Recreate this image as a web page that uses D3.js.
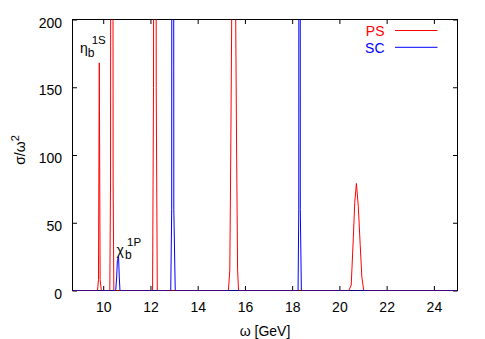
<!DOCTYPE html>
<html>
<head>
<meta charset="utf-8">
<script src="https://cdn.jsdelivr.net/npm/d3@7"></script>
<style>
  body { margin: 0; background: #fff; }
  svg { display: block; font-family: "Liberation Sans", Arial, Helvetica, sans-serif; }
</style>
</head>
<body>
<svg id="chart" width="485" height="339"></svg>
<script>
// ---- data ----
const psOmega = [8.7, 9.76, 9.80, 9.835, 9.87, 9.92,
                 10.28, 10.31, 10.366, 10.42, 10.45,
                 12.09, 12.13, 12.188, 12.245, 12.29,
                 15.30, 15.36, 15.40, 15.44, 15.53, 15.61, 15.65, 15.69, 15.73,
                 20.40, 20.50, 20.58, 20.65, 20.72, 20.80, 20.88, 20.95, 21.03, 25];
const psSigma = [0, 0, 8, 168, 8, 0,
                 0, 80, 1500, 80, 0,
                 0, 150, 1500, 150, 0,
                 0, 15, 100, 200, 1200, 200, 100, 15, 0,
                 0, 4, 35, 65, 79, 62, 34, 10, 0, 0];
const scOmega = [8.7, 10.53, 10.57, 10.60, 10.65, 10.68, 10.71,
                 12.86, 12.90, 12.943, 12.99, 13.05,
                 18.25, 18.28, 18.312, 18.345, 18.39, 25];
const scSigma = [0, 0, 10, 22, 25, 10, 0,
                 0, 60, 2000, 60, 0,
                 0, 60, 2000, 60, 0, 0];
const xTicks = [10, 12, 14, 16, 18, 20, 22, 24];
const yTicks = [0, 50, 100, 150, 200];
const seriesNames = ["PS", "SC"];
const seriesColors = ["#ff0000", "#0000ff"];

// ---- layout ----
const svg = d3.select("#chart");
const L = 72.5, R = 457.5, T = 19.5, B = 290.5;
const x = d3.scaleLinear().domain([8.7, 25]).range([L, R]);
const y = d3.scaleLinear().domain([0, 200]).range([B, T]);
const font = 14;

svg.append("defs").append("clipPath").attr("id", "clip")
  .append("rect").attr("x", L).attr("y", T).attr("width", R - L).attr("height", B - T);

// frame
svg.append("rect").attr("x", L).attr("y", T).attr("width", R - L).attr("height", B - T)
  .attr("fill", "none").attr("stroke", "#000").attr("stroke-width", 1);

// ticks (inward, mirrored) via axes
const tl = 4.5;
const axB = svg.append("g").attr("transform", `translate(0,${B})`)
  .call(d3.axisBottom(x).tickValues(xTicks).tickSizeInner(-tl).tickSizeOuter(0).tickPadding(0).tickFormat(d3.format("d")));
axB.select(".domain").remove();
axB.selectAll("text").attr("font-size", font).attr("fill", "#000")
  .attr("font-family", "Liberation Sans, Arial, sans-serif").attr("dy", null).attr("y", 21.8);
axB.selectAll("line").attr("stroke", "#000");

const axT = svg.append("g").attr("transform", `translate(0,${T})`)
  .call(d3.axisTop(x).tickValues(xTicks).tickSizeInner(-tl).tickSizeOuter(0).tickFormat(""));
axT.select(".domain").remove();
axT.selectAll("line").attr("stroke", "#000");

const axL = svg.append("g").attr("transform", `translate(${L},0)`)
  .call(d3.axisLeft(y).tickValues(yTicks).tickSizeInner(-tl).tickSizeOuter(0).tickPadding(0).tickFormat(d3.format("d")));
axL.select(".domain").remove();
axL.selectAll("text").attr("font-size", font).attr("fill", "#000")
  .attr("font-family", "Liberation Sans, Arial, sans-serif").attr("dy", null).attr("x", -10.5).attr("y", 7.6);
axL.selectAll("line").attr("stroke", "#000");

const axR = svg.append("g").attr("transform", `translate(${R},0)`)
  .call(d3.axisRight(y).tickValues(yTicks).tickSizeInner(-tl).tickSizeOuter(0).tickFormat(""));
axR.select(".domain").remove();
axR.selectAll("line").attr("stroke", "#000");

// lines
const line = d3.line().x(d => x(d[0])).y(d => y(d[1]));
const ps = psOmega.map((w, i) => [w, psSigma[i]]);
const sc = scOmega.map((w, i) => [w, scSigma[i]]);
const g = svg.append("g").attr("clip-path", "url(#clip)");
[ps, sc].forEach((data, i) => {
  g.append("path").datum(data).attr("d", line)
    .attr("fill", "none").attr("stroke", seriesColors[i]).attr("stroke-width", 1);
});

// legend
seriesNames.forEach((name, i) => {
  const ly = 30.5 + i * 16.8;
  svg.append("text").attr("x", 384.5).attr("y", ly + 5.2).attr("text-anchor", "end")
    .attr("font-size", font).attr("fill", seriesColors[i]).text(name);
  svg.append("line").attr("x1", 395).attr("x2", 437.5).attr("y1", ly).attr("y2", ly)
    .attr("stroke", seriesColors[i]).attr("stroke-width", 1);
});

// axis labels
svg.append("text").attr("x", 265).attr("y", 336).attr("text-anchor", "middle")
  .attr("font-size", font).attr("fill", "#000").text("ω [GeV]");

const yl = svg.append("text").attr("transform", "translate(25,150) rotate(-90)")
  .attr("text-anchor", "middle").attr("font-size", font).attr("fill", "#000");
yl.append("tspan").text("σ/ω");
yl.append("tspan").attr("dy", -6).attr("font-size", 11).text("2");

// annotations
function annot(x0, base, main, sub, sup, subX, supX) {
  const t = svg.append("g");
  t.append("text").attr("x", x0).attr("y", base).attr("font-size", font).text(main);
  t.append("text").attr("x", subX).attr("y", base + 3.5).attr("font-size", 12).text(sub);
  t.append("text").attr("x", supX).attr("y", base - 9.5).attr("font-size", 11.5).text(sup);
}
annot(80, 53, "η", "b", "1S", 87.7, 91.7);
annot(116.5, 255, "χ", "b", "1P", 125, 127);
</script>
</body>
</html>
